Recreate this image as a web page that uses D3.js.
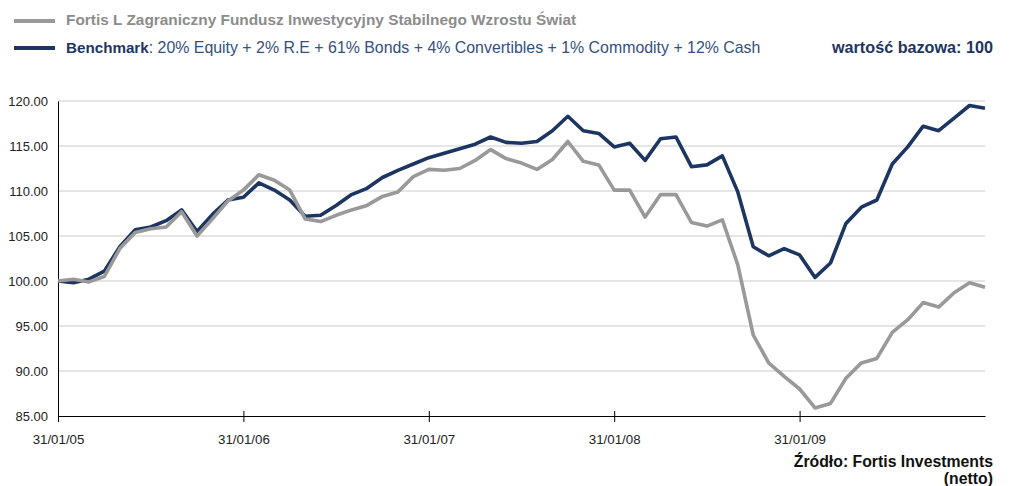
<!DOCTYPE html>
<html lang="pl">

<head>
  <meta charset="UTF-8">
  <title>Fortis L</title>
  <style>
    html,
    body {
      margin: 0;
      background: #fff;
    }

    svg {
      display: block;
      font-family: 'Liberation Sans', Arial, sans-serif;
    }
  </style>
</head>

<body>
  <svg width="1012" height="486"></svg>
  <script src="https://cdn.jsdelivr.net/npm/d3@7"></script>
  <script>
    // dane miesięczne, 31/01/05 - 31/01/10
    var fund = [100.0, 100.2, 99.9, 100.5, 103.6, 105.4, 105.8, 106.0, 107.7, 105.0, 106.9,
      108.9, 110.1, 111.8, 111.2, 110.1, 106.9, 106.6, 107.3, 107.9, 108.4,
      109.4, 109.9, 111.6, 112.4, 112.3, 112.5, 113.4, 114.6, 113.6, 113.1,
      112.4, 113.5, 115.5, 113.3, 112.9, 110.1, 110.1, 107.1, 109.6, 109.6,
      106.5, 106.1, 106.8, 101.8, 94.0, 90.9, 89.4, 88.0, 85.9, 86.4,
      89.2, 90.9, 91.4, 94.3, 95.7, 97.6, 97.1, 98.7, 99.8, 99.3]

    var benchmark = [100.0, 99.8, 100.2, 101.1, 103.8, 105.7, 106.0, 106.7, 107.9, 105.5, 107.4,
      109.0, 109.3, 110.9, 110.1, 109.0, 107.2, 107.3, 108.4, 109.6, 110.3,
      111.5, 112.3, 113.0, 113.7, 114.2, 114.7, 115.2, 116.0, 115.4, 115.3,
      115.5, 116.7, 118.3, 116.7, 116.4, 114.9, 115.3, 113.4, 115.8, 116.0,
      112.7, 112.9, 113.9, 109.9, 103.8, 102.8, 103.6, 102.9, 100.4, 102.0,
      106.4, 108.2, 109.0, 113.0, 114.9, 117.2, 116.7, 118.1, 119.5, 119.2]

    var xTickIndex = [0, 12, 24, 36, 48]
    var xTickLabels = ['31/01/05', '31/01/06', '31/01/07', '31/01/08', '31/01/09']
    var yTicks = [85, 90, 95, 100, 105, 110, 115, 120]

    var navy = '#1c3561'
    var grey = '#999999'

    var svg = d3.select('svg')

    var x = d3.scaleLinear().domain([0, fund.length - 1]).range([58, 985])
    var y = d3.scaleLinear().domain([85, 120]).range([416, 101])

    // siatka
    svg.append('g')
      .selectAll('line')
      .data(yTicks.slice(1))
      .join('line')
      .attr('x1', 58)
      .attr('x2', 985)
      .attr('y1', d => y(d))
      .attr('y2', d => y(d))
      .attr('stroke', '#cccccc')
      .attr('stroke-width', 1.2)

    // oś Y
    var yAxis = svg.append('g')
      .attr('transform', 'translate(58,0)')
      .call(d3.axisLeft(y).tickValues(yTicks).tickSize(0).tickPadding(10).tickFormat(d3.format('.2f')))
    yAxis.select('.domain').attr('stroke', '#000')
    yAxis.selectAll('text')
      .attr('font-size', 13)
      .attr('font-family', 'Liberation Sans, Arial, sans-serif')
      .attr('fill', '#222')

    // oś X
    var xAxis = svg.append('g')
      .attr('transform', 'translate(0,416)')
      .call(d3.axisBottom(x).tickValues(xTickIndex).tickSize(0).tickPadding(19)
        .tickFormat((d, i) => xTickLabels[i]))
    xAxis.select('.domain').attr('stroke', '#000')
    xAxis.selectAll('.tick line')
      .attr('y1', -5)
      .attr('y2', 6)
      .attr('stroke', '#000')
    xAxis.selectAll('text')
      .attr('font-size', 13.3)
      .attr('font-family', 'Liberation Sans, Arial, sans-serif')
      .attr('fill', '#222')

    // linie
    var line = d3.line()
      .x((d, i) => x(i))
      .y(d => y(d))

    svg.append('path')
      .datum(benchmark)
      .attr('fill', 'none')
      .attr('stroke', navy)
      .attr('stroke-width', 3.6)
      .attr('stroke-linejoin', 'round')
      .attr('d', line)

    svg.append('path')
      .datum(fund)
      .attr('fill', 'none')
      .attr('stroke', grey)
      .attr('stroke-width', 3.6)
      .attr('stroke-linejoin', 'round')
      .attr('d', line)

    // legenda
    svg.append('line')
      .attr('x1', 14).attr('x2', 55).attr('y1', 21).attr('y2', 21)
      .attr('stroke', grey).attr('stroke-width', 4)
    svg.append('text')
      .attr('x', 66).attr('y', 25)
      .attr('font-size', 15.4).attr('font-weight', 'bold').attr('fill', '#8c8c8c')
      .text('Fortis L Zagraniczny Fundusz Inwestycyjny Stabilnego Wzrostu Świat')

    svg.append('line')
      .attr('x1', 14).attr('x2', 55).attr('y1', 48).attr('y2', 48)
      .attr('stroke', navy).attr('stroke-width', 4)
    var t2 = svg.append('text')
      .attr('x', 66).attr('y', 53)
      .attr('font-size', 15.2).attr('fill', '#33507f')
    t2.append('tspan').attr('font-weight', 'bold').attr('fill', navy).text('Benchmark')
    t2.append('tspan').attr('font-size', 15.9)
      .text(': 20% Equity + 2% R.E + 61% Bonds + 4% Convertibles + 1% Commodity + 12% Cash')

    svg.append('text')
      .attr('x', 993).attr('y', 53)
      .attr('text-anchor', 'end')
      .attr('font-size', 16.2).attr('font-weight', 'bold').attr('fill', navy)
      .text('wartość bazowa: 100')

    // źródło
    svg.append('text')
      .attr('x', 993).attr('y', 467)
      .attr('text-anchor', 'end')
      .attr('font-size', 15.8).attr('font-weight', 'bold').attr('fill', '#111')
      .text('Źródło: Fortis Investments')
    svg.append('text')
      .attr('x', 993).attr('y', 484)
      .attr('text-anchor', 'end')
      .attr('font-size', 15.8).attr('font-weight', 'bold').attr('fill', '#111')
      .text('(netto)')
  </script>
</body>

</html>
